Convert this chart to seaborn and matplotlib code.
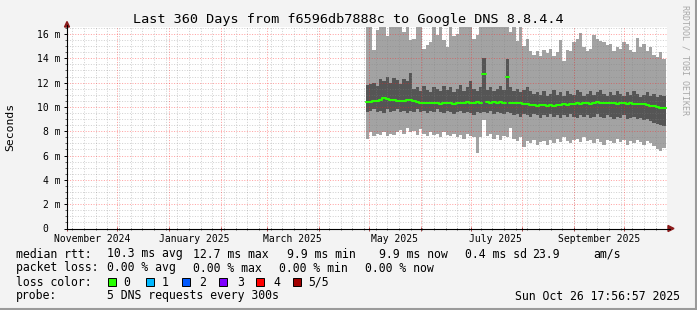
import matplotlib
matplotlib.use("Agg")
import matplotlib.pyplot as plt
import matplotlib.transforms as mtransforms
from matplotlib.patches import Rectangle
from matplotlib.lines import Line2D
import seaborn as sns
import numpy as np
import pandas as pd

W, H = 697, 310

# ---------------- data (ms) ----------------
bin_start = "2025-04-29"
rtt_max = [16.9, 16.9, 14.7, 16.3, 16.9, 16.9, 15.8, 16.9, 16.9, 16.9,
           16.9, 16.2, 16.9, 15.5, 15.6, 16.9, 16.9, 14.8, 15.1, 15.3,
           16.9, 15.9, 16.9, 15.5, 14.9, 16.9, 15.8, 16.0, 16.9, 16.9,
           16.9, 16.9, 15.6, 15.9, 16.9, 16.9, 16.9, 16.9, 16.9, 16.9,
           16.9, 16.9, 16.9, 16.2, 16.9, 15.4, 16.9, 15.0, 15.6, 14.6,
           14.3, 14.6, 14.2, 14.7, 14.4, 14.8, 14.2, 14.5, 15.5, 13.8,
           14.7, 14.6, 15.3, 15.6, 16.1, 14.9, 14.6, 14.8, 15.9, 15.6,
           15.4, 15.3, 15.1, 15.2, 14.6, 14.9, 14.8, 15.3, 15.2, 14.7,
           14.5, 15.7, 14.9, 15.2, 14.6, 14.9, 14.3, 14.1, 14.5, 13.9]
rtt_min = [7.4, 7.9, 7.6, 7.8, 7.7, 7.9, 7.6, 7.8, 7.7, 7.9,
           8.1, 7.8, 8.3, 7.9, 8.0, 7.7, 8.2, 7.8, 7.6, 7.9,
           7.7, 7.8, 7.5, 7.9, 7.7, 7.6, 7.8, 7.5, 7.7, 7.4,
           7.8, 7.6, 7.5, 6.2, 7.5, 8.9, 7.6, 7.8, 7.4, 7.7,
           7.3, 7.6, 7.5, 8.3, 7.4, 7.2, 7.5, 6.7, 7.2, 7.0,
           7.3, 6.9, 7.1, 7.2, 6.9, 7.3, 7.0, 7.4, 7.1, 7.5,
           7.2, 7.0, 7.3, 7.4, 7.1, 7.5, 7.2, 7.3, 7.0, 7.4,
           7.1, 6.9, 7.3, 7.2, 7.0, 7.4, 7.1, 7.3, 6.9, 7.2,
           7.0, 7.3, 7.1, 6.9, 7.2, 7.0, 6.8, 6.5, 6.4, 6.6]
smoke_hi = [11.8, 11.9, 12.0, 11.7, 12.3, 12.1, 12.5, 12.0, 12.4, 12.2,
            11.9, 12.3, 12.1, 12.8, 11.5, 11.6, 11.3, 11.7, 11.4, 11.2,
            11.6, 11.5, 11.3, 11.7, 11.4, 11.6, 11.2, 11.5, 11.8, 11.3,
            11.6, 12.1, 11.5, 11.3, 11.6, 14.0, 11.4, 11.6, 11.3, 11.5,
            11.7, 11.4, 13.9, 11.6, 11.3, 11.5, 11.2, 11.4, 11.6, 11.3,
            11.1, 11.2, 11.0, 11.3, 10.9, 11.1, 11.4, 11.0, 11.2, 10.9,
            11.3, 11.1, 11.0, 11.4, 11.2, 10.9, 11.1, 11.3, 11.0, 11.2,
            11.4, 11.1, 10.9, 11.2, 11.0, 11.3, 11.1, 10.9, 11.2, 11.0,
            11.3, 11.1, 10.8, 11.0, 11.2, 10.9, 11.1, 10.8, 11.0, 10.9]
smoke_lo = [9.6, 9.7, 9.8, 9.6, 9.7, 9.5, 9.8, 9.6, 9.7, 9.8,
            9.6, 9.7, 9.5, 9.7, 9.6, 9.8, 9.6, 9.7, 9.5, 9.7,
            9.6, 9.8, 9.6, 9.5, 9.7, 9.6, 9.4, 9.6, 9.7, 9.5,
            9.6, 9.5, 9.3, 9.6, 9.5, 9.6, 9.5, 9.7, 9.4, 9.6,
            9.5, 9.4, 9.6, 9.5, 9.3, 9.4, 9.2, 9.4, 9.3, 9.2,
            9.4, 9.3, 9.1, 9.3, 9.2, 9.4, 9.2, 9.3, 9.1, 9.3,
            9.2, 9.4, 9.2, 9.1, 9.3, 9.2, 9.3, 9.1, 9.2, 9.4,
            9.2, 9.1, 9.3, 9.2, 9.0, 9.2, 9.1, 9.3, 9.0, 9.1,
            9.2, 9.0, 9.1, 8.9, 9.0, 8.8, 8.7, 8.6, 8.5, 8.4]
median_rtt = [10.4, 10.4, 10.45, 10.5, 10.55, 10.7, 10.65, 10.6, 10.55, 10.5,
              10.45, 10.5, 10.6, 10.6, 10.45, 10.4, 10.35, 10.3, 10.3, 10.35,
              10.3, 10.3, 10.25, 10.3, 10.35, 10.3, 10.25, 10.3, 10.35, 10.3,
              10.4, 10.3, 10.35, 10.4, 10.35, 12.7, 10.4, 10.35, 10.4, 10.35,
              10.4, 10.35, 12.5, 10.35, 10.3, 10.35, 10.3, 10.25, 10.2, 10.15,
              10.15, 10.1, 10.15, 10.15, 10.1, 10.15, 10.1, 10.15, 10.15, 10.2,
              10.15, 10.2, 10.25, 10.3, 10.25, 10.3, 10.3, 10.25, 10.35, 10.4,
              10.35, 10.3, 10.3, 10.35, 10.3, 10.25, 10.3, 10.3, 10.25, 10.3,
              10.25, 10.2, 10.25, 10.2, 10.15, 10.1, 10.05, 10.0, 9.95, 9.9]

x_start = "2024-10-31 17:56:57"
x_end = "2025-10-26 17:56:57"
month_labels = ["November 2024", "January 2025", "March 2025",
                "May 2025", "July 2025", "September 2025"]
label_dates = ["2024-11-16", "2025-01-16", "2025-03-16",
               "2025-05-16", "2025-07-16", "2025-09-16"]
y_ticks = [0, 2, 4, 6, 8, 10, 12, 14, 16]
y_tick_labels = ["0  ", "2 m", "4 m", "6 m", "8 m", "10 m", "12 m", "14 m", "16 m"]
loss_labels = ["0", "1", "2", "3", "4", "5/5"]
loss_colors = ["#26ff00", "#00b8ff", "#0059ff", "#7e00ff", "#ff0000", "#a10000"]

title = "Last 360 Days from f6596db7888c to Google DNS 8.8.4.4"
legend_rows = [
    [("median rtt:", 16), ("10.3 ms avg", 107), ("12.7 ms max", 193),
     ("9.9 ms min", 287), ("9.9 ms now", 379), ("0.4 ms sd", 465),
     ("23.9", 532), ("am/s", 593)],
    [("packet loss:", 16), ("0.00 % avg", 107), ("0.00 % max", 193),
     ("0.00 % min", 279), ("0.00 % now", 365)],
    [("loss color:", 16)],
    [("probe:", 16), ("5 DNS requests every 300s", 107)],
]
loss_box_x = [108, 146, 182, 219, 256, 293]
loss_text_x = [123, 162, 199, 237, 273, 308]
timestamp = "Sun Oct 26 17:56:57 2025"

# ---------------- style ----------------
sns.set_style("white")
plt.rcParams['font.family'] = ['DejaVu Sans Mono']

fig = plt.figure(figsize=(W / 100, H / 100), dpi=100, facecolor="#f3f3f3")

def fx(x):
    return x / W

def fy(y):
    return 1 - y / H

ax_l, ax_r, ax_b, ax_t = 67, 667, 228.5, 27
ax = fig.add_axes([fx(ax_l), fy(ax_b), (ax_r - ax_l) / W, (ax_b - ax_t) / H])
ax.set_facecolor("white")

t0 = pd.Timestamp(x_start)
t1 = pd.Timestamp(x_end)
ax.set_xlim(t0, t1)
ax.set_ylim(0, (ax_b - ax_t) / 12.16)

dates = pd.date_range(bin_start, periods=len(median_rtt), freq="2D")
edges = dates.append(pd.DatetimeIndex([dates[-1] + pd.Timedelta(days=2)]))

def ext(v):
    return list(v) + [v[-1]]

ax.fill_between(edges, ext(rtt_min), ext(rtt_max), step="post",
                color="#a3a3a3", linewidth=0, zorder=1)
ax.fill_between(edges, ext(smoke_lo), ext(smoke_hi), step="post",
                color="#555555", linewidth=0, zorder=2)

# median line: one segment per run; isolated spike bins drawn as their own
# short segments (no vertical connectors, as in the original)
is_spike = [m > 12 for m in median_rtt]
rows = []
seg = 0
i = 0
n = len(median_rtt)
while i < n:
    j = i
    if not is_spike[i]:
        while j + 1 < n and not is_spike[j + 1]:
            j += 1
    for k in range(i, j + 1):
        rows.append((edges[k], median_rtt[k], seg))
    rows.append((edges[j + 1], median_rtt[j], seg))
    seg += 1
    i = j + 1
df = pd.DataFrame(rows, columns=["t", "median", "seg"])
sns.lineplot(data=df, x="t", y="median", units="seg", estimator=None,
             drawstyle="steps-post", color="#26ff00", linewidth=1.5,
             ax=ax, zorder=4)

# ---------------- grid ----------------
month_starts = pd.date_range("2024-11-01", "2025-10-01", freq="MS")
mondays = pd.date_range("2024-11-04", "2025-10-26", freq="7D")
minor_kw = dict(color="#808080", alpha=0.36, linewidth=0.72,
                linestyle=(0, (1, 1.6)), zorder=3)
major_kw = dict(color="#ff2020", alpha=0.42, linewidth=0.72,
                linestyle=(0, (1, 1.6)), zorder=3)
for d in mondays:
    ax.axvline(d, **minor_kw)
for v in np.arange(0.5, 16.6, 0.5):
    if abs(v % 2) > 1e-9:
        ax.axhline(v, **minor_kw)
for d in month_starts:
    ax.axvline(d, **major_kw)
for v in y_ticks[1:]:
    ax.axhline(v, **major_kw)

# ---------------- axes ----------------
for s in ax.spines.values():
    s.set_visible(False)
ax.set_yticks(y_ticks)
ax.set_yticklabels(y_tick_labels)
ax.set_yticks(np.arange(0.5, 16.6, 0.5), minor=True)
ax.set_xticks(month_starts)
ax.set_xticklabels([])
ax.set_xticks(mondays, minor=True)
ax.tick_params(axis="y", which="major", length=2.2, width=0.7, pad=2.6,
               labelsize=7, colors="#000000", left=True)
ax.tick_params(axis="y", which="minor", length=1.4, width=0.7, left=True,
               color="#606060")
ax.tick_params(axis="x", which="major", length=2.2, width=0.7, bottom=True,
               direction="inout", color="#a04040")
ax.tick_params(axis="x", which="minor", length=1.4, width=0.7, bottom=True,
               direction="inout", color="#606060")
ax.set_xlabel("")
ax.set_ylabel("")
ax.grid(False)

# axis lines + arrows
fig.add_artist(Line2D([fx(ax_l), fx(ax_l)], [fy(ax_b), fy(25)],
                      color="#000000", linewidth=0.8))
fig.add_artist(Line2D([fx(ax_l), fx(670)], [fy(ax_b), fy(ax_b)],
                      color="#000000", linewidth=0.8))
fig.add_artist(plt.Polygon([[fx(64.5), fy(27)], [fx(69.5), fy(27)], [fx(67), fy(21.5)]],
                           closed=True, color="#8b1a1a", transform=fig.transFigure))
fig.add_artist(plt.Polygon([[fx(668), fy(225.5)], [fx(668), fy(231.5)], [fx(674), fy(228.5)]],
                           closed=True, color="#8b1a1a", transform=fig.transFigure))

# month labels
trans = mtransforms.blended_transform_factory(ax.transData, fig.transFigure)
for lab, d in zip(month_labels, label_dates):
    ax.text(pd.Timestamp(d), fy(238.5), lab, transform=trans, ha="center",
            va="center", fontsize=7, color="#000000")

# ---------------- texts ----------------
fig.text(fx(348), fy(19), title, ha="center", va="center", fontsize=9.7,
         color="#000000")
fig.text(fx(10), fy(127), "Seconds", rotation=90, ha="center", va="center",
         fontsize=8.2, color="#000000")
fig.text(fx(685), fy(60), "RRDTOOL / TOBI OETIKER", rotation=270,
         ha="center", va="center", fontsize=6, color="#a8a8a8")

row_y = [254, 268, 282, 296]
for row, yy in zip(legend_rows, row_y):
    for txt, xx in row:
        fig.text(fx(xx), fy(yy), txt, ha="left", va="center", fontsize=8.3,
                 color="#000000")
for bx, tx, lab, col in zip(loss_box_x, loss_text_x, loss_labels, loss_colors):
    fig.add_artist(Rectangle((fx(bx), fy(286)), 8 / W, 8 / H, facecolor=col,
                             edgecolor="#000000", linewidth=0.7,
                             transform=fig.transFigure))
    fig.text(fx(tx), fy(282), lab, ha="left", va="center", fontsize=8.3,
             color="#000000")
fig.text(fx(680), fy(296), timestamp, ha="right", va="center", fontsize=8.3,
         color="#000000")

# frame shadow
fig.add_artist(Line2D([fx(695.5), fx(695.5)], [fy(0), fy(310)], color="#9a9a9a", linewidth=1.5))
fig.add_artist(Line2D([fx(0), fx(697)], [fy(308.5), fy(308.5)], color="#9a9a9a", linewidth=1.5))

fig.savefig("out.png", dpi=100, facecolor=fig.get_facecolor())
